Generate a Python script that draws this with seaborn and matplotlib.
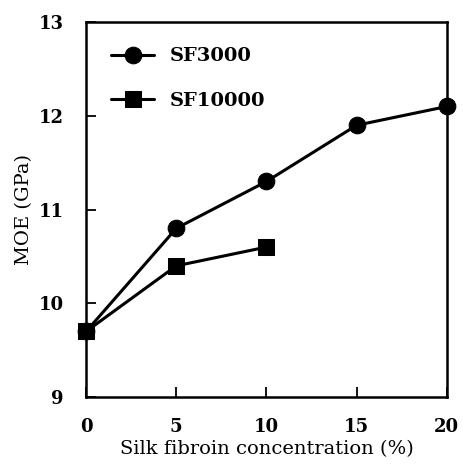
import pandas as pd
import matplotlib.pyplot as plt
import seaborn as sns

# data
conc = [0, 5, 10, 15, 20]
sf3000 = [9.7, 10.8, 11.3, 11.9, 12.1]
conc_10k = [0, 5, 10]
sf10000 = [9.7, 10.4, 10.6]

df = pd.concat([
    pd.DataFrame({'conc': conc, 'MOE': sf3000, 'series': 'SF3000'}),
    pd.DataFrame({'conc': conc_10k, 'MOE': sf10000, 'series': 'SF10000'}),
])

sns.set_style('ticks')
plt.rcParams['font.family'] = ['DejaVu Serif']
plt.rcParams['text.color'] = 'black'
plt.rcParams['axes.labelcolor'] = 'black'
plt.rcParams['xtick.color'] = 'black'
plt.rcParams['ytick.color'] = 'black'

fig = plt.figure(figsize=(4.63, 4.71), dpi=100)
ax = fig.add_axes([0.186, 0.157, 0.779, 0.796])

sns.lineplot(data=df, x='conc', y='MOE', hue='series', style='series',
             markers={'SF3000': 'o', 'SF10000': 's'}, dashes=False,
             palette={'SF3000': 'black', 'SF10000': 'black'},
             markersize=12, linewidth=2.2, markeredgecolor='black',
             ax=ax, clip_on=False)

ax.set_xlim(0, 20)
ax.set_ylim(9, 13)
ax.set_xticks([0, 5, 10, 15, 20])
ax.set_yticks([9, 10, 11, 12, 13])
ax.tick_params(direction='in', length=7, width=1.3, labelsize=13)
ax.tick_params(axis='x', pad=15)
ax.tick_params(axis='y', pad=16)
for lbl in ax.get_xticklabels() + ax.get_yticklabels():
    lbl.set_fontweight('bold')
for s in ax.spines.values():
    s.set_linewidth(1.8)
    s.set_color('black')

ax.set_xlabel('Silk fibroin concentration (%)', fontsize=14, labelpad=3)
ax.set_ylabel('MOE (GPa)', fontsize=14, labelpad=4)

leg = ax.legend(loc='upper left', frameon=False, prop={'weight': 'bold', 'size': 14},
                handlelength=2.2, labelspacing=1.35, borderaxespad=0.9)

fig.savefig('out.png', dpi=100)
